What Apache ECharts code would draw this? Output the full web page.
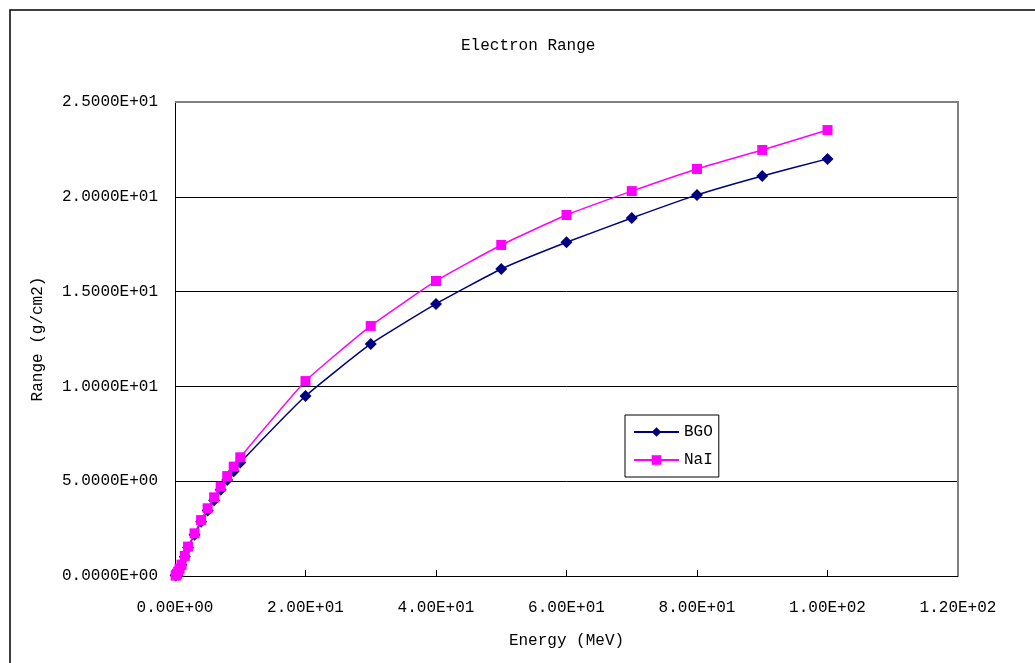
<!DOCTYPE html>
<html>
<head>
<meta charset="utf-8">
<script src="https://cdn.jsdelivr.net/npm/echarts@6/dist/echarts.min.js"></script>
<style>
html,body{margin:0;padding:0;background:#fff;}
#c{width:1035px;height:663px;}
</style>
</head>
<body>
<div id="c"></div>
<script>
// Energies (MeV)
const energy = [0.1, 0.2, 0.3, 0.5, 0.7, 1.0, 1.5, 2, 3, 4, 5, 6, 7, 8, 9, 10, 20, 30, 40, 50, 60, 70, 80, 90, 100];
// Range (g/cm2)
const bgoRange = [0.02, 0.06, 0.11, 0.23, 0.36, 0.58, 1.02, 1.50, 2.18, 2.86, 3.45, 4.00, 4.55, 5.06, 5.52, 5.98, 9.49, 12.24, 14.35, 16.19, 17.60, 18.88, 20.10, 21.10, 22.00];
const naiRange = [0.02, 0.06, 0.12, 0.24, 0.38, 0.60, 1.06, 1.55, 2.25, 2.95, 3.57, 4.15, 4.71, 5.27, 5.77, 6.26, 10.28, 13.19, 15.56, 17.46, 19.04, 20.30, 21.47, 22.47, 23.52];
const xTickLabels = ['0.00E+00', '2.00E+01', '4.00E+01', '6.00E+01', '8.00E+01', '1.00E+02', '1.20E+02'];
const yTickLabels = ['0.0000E+00', '5.0000E+00', '1.0000E+01', '1.5000E+01', '2.0000E+01', '2.5000E+01'];
const seriesNames = ['BGO', 'NaI'];
const titleText = 'Electron Range';
const xName = 'Energy (MeV)';
const yName = 'Range (g/cm2)';

const FONT = 'Liberation Mono';
const pair = (xs, ys) => xs.map((x, i) => [x, ys[i]]);

const chart = echarts.init(document.getElementById('c'));
chart.setOption({
  backgroundColor: '#fff',
  animation: false,
  graphic: [
    { type: 'rect', shape: { x: 10, y: 10, width: 1200, height: 900 }, style: { fill: 'none', stroke: '#000', lineWidth: 1.5 }, z: 0, silent: true },
    { type: 'polyline', shape: { points: [[175, 102], [958, 102], [958, 576]] }, style: { stroke: '#808080', lineWidth: 2, fill: 'none' }, z: 1, silent: true }
  ],
  title: {
    text: titleText,
    left: 456, top: 33,
    textStyle: { fontFamily: FONT, fontSize: 16, fontWeight: 'normal', color: '#000' }
  },
  grid: { left: 175, right: 77, top: 102, bottom: 87, containLabel: false },
  legend: {
    orient: 'vertical',
    left: 625, top: 415,
    width: 93,
    padding: [9, 6, 9, 8],
    itemWidth: 45, itemHeight: 12, itemGap: 12,
    backgroundColor: '#fff',
    borderColor: '#000', borderWidth: 1,
    textStyle: { fontFamily: FONT, fontSize: 16, color: '#000', padding: [0, 0, 0, 0] },
    data: seriesNames
  },
  xAxis: {
    type: 'value', min: 0, max: 120, interval: 20,
    name: xName, nameLocation: 'middle', nameGap: 57,
    nameTextStyle: { fontFamily: FONT, fontSize: 16, color: '#000' },
    axisLine: { show: true, onZero: false, lineStyle: { color: '#000', width: 1 } },
    axisTick: { show: true, inside: true, length: 6, lineStyle: { color: '#000' } },
    axisLabel: { margin: 24, fontFamily: FONT, fontSize: 16, color: '#000',
      formatter: v => xTickLabels[Math.round(v / 20)] },
    splitLine: { show: false }
  },
  yAxis: {
    type: 'value', min: 0, max: 25, interval: 5,
    name: yName, nameLocation: 'middle', nameGap: 129, nameRotate: 90,
    nameTextStyle: { fontFamily: FONT, fontSize: 16, color: '#000' },
    axisLine: { show: true, onZero: false, lineStyle: { color: '#000', width: 1 } },
    axisTick: { show: true, inside: true, length: 5, lineStyle: { color: '#000' } },
    axisLabel: { margin: 17, fontFamily: FONT, fontSize: 16, color: '#000',
      formatter: v => yTickLabels[Math.round(v / 5)] },
    splitLine: { show: true, lineStyle: { color: '#000', width: 1 } }
  },
  series: [
    {
      name: seriesNames[0], type: 'line', data: pair(energy, bgoRange),
      smooth: 0.15, symbol: 'diamond', symbolSize: 12,
      itemStyle: { color: '#000080' },
      lineStyle: { color: '#000080', width: 1.5 }, z: 3
    },
    {
      name: seriesNames[1], type: 'line', data: pair(energy, naiRange),
      smooth: 0.15, symbol: 'rect', symbolSize: 10,
      itemStyle: { color: '#FF00FF' },
      lineStyle: { color: '#FF00FF', width: 1.5 }, z: 4
    }
  ]
});
</script>
</body>
</html>
